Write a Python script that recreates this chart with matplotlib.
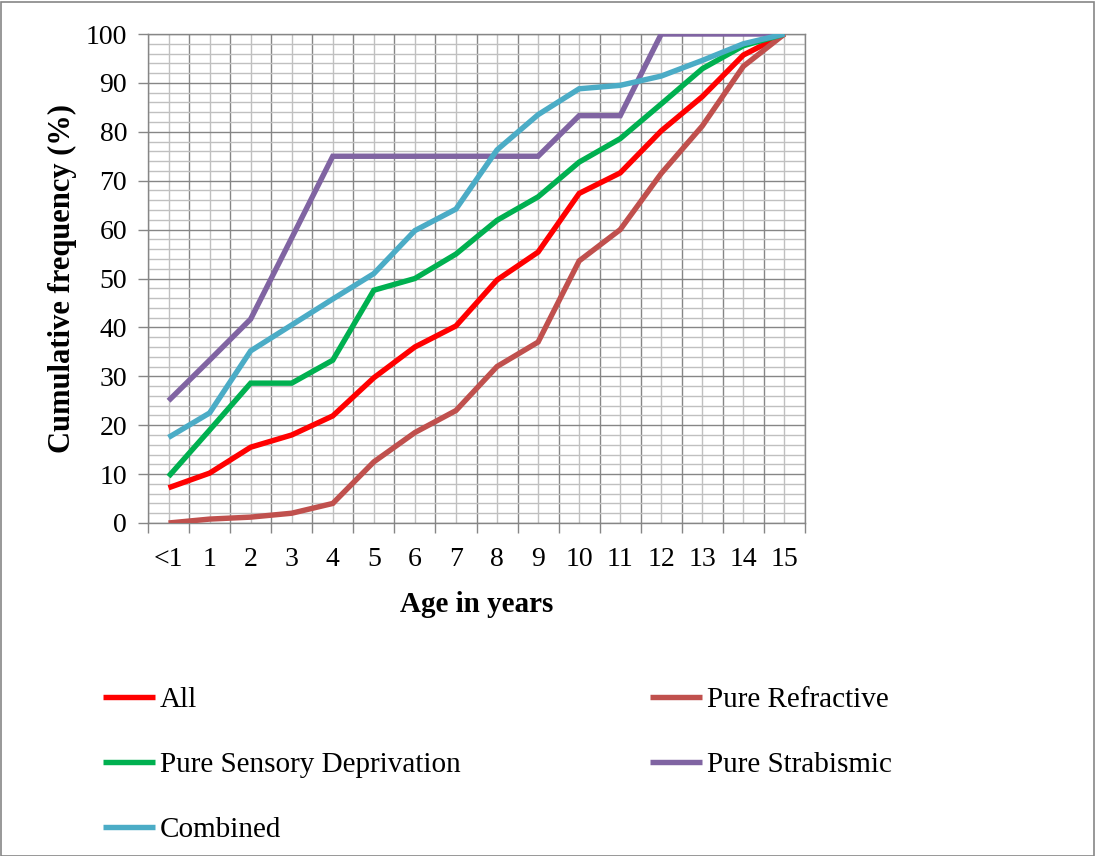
import matplotlib
matplotlib.use("Agg")
import matplotlib.pyplot as plt
from matplotlib.patches import Rectangle
import numpy as np

plt.rcParams['font.family'] = ['Liberation Serif', 'DejaVu Serif']

categories = ["<1", "1", "2", "3", "4", "5", "6", "7", "8", "9", "10", "11", "12", "13", "14", "15"]
all_vals = [7.2, 10.2, 15.5, 18.0, 21.9, 29.7, 36.0, 40.3, 49.7, 55.4, 67.4, 71.6, 80.2, 87.2, 95.7, 100]
pure_refractive = [0.0, 0.8, 1.2, 2.0, 4.0, 12.5, 18.5, 23.0, 32.0, 37.0, 53.6, 60.0, 71.5, 81.2, 93.4, 100]
pure_sensory = [9.5, 19.0, 28.6, 28.6, 33.3, 47.6, 50.0, 55.0, 61.9, 66.7, 73.8, 78.6, 85.7, 92.9, 97.6, 100]
pure_strabismic = [25.0, 33.3, 41.7, 58.3, 75.0, 75.0, 75.0, 75.0, 75.0, 75.0, 83.3, 83.3, 100, 100, 100, 100]
combined = [17.5, 22.5, 35.2, 40.5, 45.8, 51.0, 59.8, 64.2, 76.3, 83.5, 88.8, 89.5, 91.4, 94.6, 98.0, 100]

series = [
    ("All", all_vals, "#FF0000"),
    ("Pure Refractive", pure_refractive, "#C0504D"),
    ("Pure Sensory Deprivation", pure_sensory, "#00B050"),
    ("Pure Strabismic", pure_strabismic, "#8064A2"),
    ("Combined", combined, "#4BACC6"),
]

fig = plt.figure(figsize=(10.95, 8.56), dpi=100)
ax = fig.add_axes([148/1095, 1-523/856, (805-148)/1095, (523-34)/856])

x = np.arange(len(categories))
handles = {}
for name, vals, col in series:
    h, = ax.plot(x, vals, color=col, lw=3.9, solid_joinstyle='miter', solid_capstyle='butt', label=name, zorder=3)
    handles[name] = h

ax.set_xlim(-0.5, len(categories) - 0.5)
ax.set_ylim(0, 100)

ax.set_xticks(np.arange(-0.5, len(categories), 1.0))
ax.set_xticklabels([])
ax.set_xticks(x, minor=True)
ax.set_xticklabels(categories, minor=True)
ax.set_yticks(np.arange(0, 101, 10))
ax.set_yticks(np.arange(0, 101, 2), minor=True)
ax.tick_params(axis='x', which='major', length=7, color='#868686', width=1)
ax.tick_params(axis='x', which='minor', length=0, labelsize=20, pad=17)
ax.tick_params(axis='y', which='major', length=7, color='#868686', width=1, labelsize=20, pad=8)
ax.tick_params(axis='y', which='minor', length=0)
ax.grid(True, which='major', color='#868686', lw=1.0, zorder=1)
ax.grid(True, which='minor', color='#C0C0C0', lw=1.0, zorder=0)
ax.set_axisbelow(True)
for s in ax.spines.values():
    s.set_color('#868686')
    s.set_linewidth(1.0)

ax.set_xlabel("Age in years", fontsize=21, fontweight='bold', labelpad=14)
ax.set_ylabel("Cumulative frequency (%)", fontsize=22, fontweight='bold', labelpad=6)

leg_kw = dict(frameon=False, fontsize=21, handlelength=1.78, handletextpad=0.17,
              labelspacing=1.32, borderpad=0, borderaxespad=0)
fig.legend([handles["All"], handles["Pure Sensory Deprivation"], handles["Combined"]],
           ["All", "Pure Sensory Deprivation", "Combined"],
           loc='upper left', bbox_to_anchor=(103/1095, 1-687/856), **leg_kw)
fig.legend([handles["Pure Refractive"], handles["Pure Strabismic"]],
           ["Pure Refractive", "Pure Strabismic"],
           loc='upper left', bbox_to_anchor=(650/1095, 1-687/856), **leg_kw)

fig.add_artist(Rectangle((0.5/1095, 0.5/856), 1-2/1095, 1-2/856, transform=fig.transFigure,
                         fill=False, edgecolor='#868686', lw=1.2))

fig.savefig("out.png", dpi=100)
